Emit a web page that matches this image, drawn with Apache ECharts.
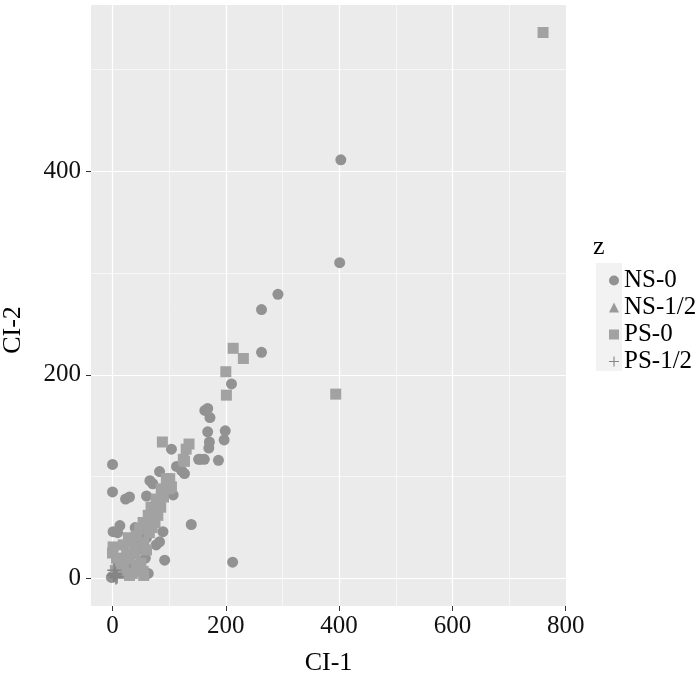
<!DOCTYPE html>
<html>
<head>
<meta charset="utf-8">
<script src="https://cdn.jsdelivr.net/npm/echarts@6/dist/echarts.min.js"></script>
<style>
  html, body { margin: 0; padding: 0; background: #fff; }
  #chart { width: 700px; height: 680px; }
</style>
</head>
<body>
<div id="chart"></div>
<script>
  // 数据：[CI-1, CI-2]
  const ns0 = [
    [403, 411], [401, 310], [292, 279], [263, 264], [263, 222], [210, 191],
    [163, 165], [168, 167], [172, 158], [168, 144], [199, 145], [197, 136],
    [171, 134], [170, 128], [152, 117], [162, 117], [187, 116], [155, 117],
    [104, 127], [0, 112], [113, 110], [122, 106], [127, 103], [83, 105],
    [66, 96], [71, 93], [0, 85], [23, 78], [30, 80], [60, 81], [107, 82],
    [139, 53], [1, 46], [13, 52], [9, 45], [89, 46], [83, 36], [77, 33],
    [92, 18], [212, 16], [63, 5], [0, 2], [-2, 1], [40, 50], [50, 30],
    [60, 40], [70, 60], [30, 15], [20, 5], [75, 70], [58, 20]
  ];
  const ns12 = [[20, 15], [35, 25], [50, 40], [60, 50], [45, 30]];
  const ps0 = [
    [760, 536], [394, 181], [213, 226], [231, 216], [200, 203], [201, 180],
    [88, 134], [135, 132], [130, 127], [125, 117], [127, 115], [101, 98],
    [104, 90], [95, 98], [86, 88], [77, 78], [68, 70], [63, 62], [54, 55],
    [48, 49], [42, 42], [33, 36], [19, 33], [1, 31], [7, 20], [25, 23],
    [42, 13], [54, 7], [30, 3], [19, 7], [5, 8], [15, 5], [35, 5], [45, 8],
    [50, 15], [55, 3], [10, 18], [20, 12], [30, 20], [40, 25], [0, 25],
    [85, 70], [75, 55], [65, 45], [55, 35], [90, 80], [80, 62], [70, 50],
    [60, 28], [38, 30], [28, 40], [100, 88]
  ];
  const ps12 = [[2, 3], [5, 5], [8, 2], [3, 8], [6, 1], [4, 4]];

  const xMajor = [0, 200, 400, 600];
  const xMinor = [100, 300, 500, 700];
  const yMajor = [0, 200, 400];
  const yMinor = [100, 300, 500];
  const xLabels = [0, 200, 400, 600, 800];
  const yLabels = [0, 200, 400];

  const FONT = "'Liberation Serif', 'DejaVu Serif', serif";
  const plusPath = 'path://M4.45,0 L5.55,0 L5.55,4.45 L10,4.45 L10,5.55 L5.55,5.55 L5.55,10 L4.45,10 L4.45,5.55 L0,5.55 L0,4.45 L4.45,4.45 Z';

  const gridLines = [];
  xMajor.forEach(v => gridLines.push({ xAxis: v, lineStyle: { width: 1.2 } }));
  xMinor.forEach(v => gridLines.push({ xAxis: v, lineStyle: { width: 0.6 } }));
  yMajor.forEach(v => gridLines.push({ yAxis: v, lineStyle: { width: 1.2 } }));
  yMinor.forEach(v => gridLines.push({ yAxis: v, lineStyle: { width: 0.6 } }));

  const chart = echarts.init(document.getElementById('chart'));
  chart.setOption({
    backgroundColor: '#ffffff',
    animation: false,
    textStyle: { fontFamily: FONT },
    title: {
      text: 'z',
      left: 588,
      top: 229,
      textStyle: { fontFamily: FONT, fontSize: 26, fontWeight: 'normal', color: '#000' }
    },
    grid: {
      left: 91, top: 5, width: 475, height: 601,
      outerBoundsMode: 'none',
      show: true, backgroundColor: '#ebebeb', borderWidth: 0
    },
    xAxis: {
      type: 'value',
      min: -38,
      max: 800.5,
      name: 'CI-1',
      nameLocation: 'middle',
      nameGap: 44,
      nameTextStyle: { fontFamily: FONT, fontSize: 26, color: '#000' },
      axisLine: { show: false, onZero: false },
      axisTick: { show: true, length: 5, customValues: xLabels, lineStyle: { color: '#333', width: 1 } },
      axisLabel: { customValues: xLabels, fontSize: 25, color: '#111', margin: 8, fontFamily: FONT },
      splitLine: { show: false }
    },
    yAxis: {
      type: 'value',
      min: -27,
      max: 563,
      axisLine: { show: false, onZero: false },
      axisTick: { show: true, length: 5, customValues: yLabels, lineStyle: { color: '#333', width: 1 } },
      axisLabel: { customValues: yLabels, fontSize: 25, color: '#111', margin: 10, fontFamily: FONT },
      splitLine: { show: false }
    },
    legend: {
      orient: 'vertical',
      left: 604,
      top: 262,
      itemWidth: 10,
      itemHeight: 10,
      itemGap: 0,
      data: ['NS-0', 'NS-1/2', 'PS-0', 'PS-1/2'],
      textStyle: { fontFamily: FONT, fontSize: 25, color: '#000', lineHeight: 27, padding: [0, 0, 0, 0] }
    },
    graphic: [0, 1, 2, 3].map(i => ({
      type: 'rect',
      z: -1,
      shape: { x: 596, y: 263 + i * 27, width: 26, height: 27 },
      style: { fill: '#f2f2f2' }
    })).concat([{
      type: 'text',
      x: 13,
      y: 330,
      rotation: Math.PI / 2,
      style: {
        text: 'CI-2', fontFamily: FONT, fontSize: 26, fill: '#000',
        align: 'center', verticalAlign: 'middle'
      }
    }]),
    series: [
      {
        name: 'grid',
        type: 'scatter',
        data: [],
        z: 1,
        markLine: {
          z: 1,
          silent: true,
          symbol: 'none',
          label: { show: false },
          lineStyle: { color: '#ffffff', type: 'solid' },
          data: gridLines
        }
      },
      {
        name: 'NS-0', type: 'scatter', data: ns0, symbol: 'circle', symbolSize: 11, z: 3,
        itemStyle: { color: '#929292', opacity: 1 }
      },
      {
        name: 'NS-1/2', type: 'scatter', data: ns12, symbol: 'triangle', symbolSize: 12, z: 3,
        itemStyle: { color: '#9a9a9a', opacity: 1 }
      },
      {
        name: 'PS-0', type: 'scatter', data: ps0, symbol: 'rect', symbolSize: 11, z: 3,
        itemStyle: { color: '#a2a2a2', opacity: 1 }
      },
      {
        name: 'PS-1/2', type: 'scatter', data: ps12, symbol: plusPath, symbolSize: 14, z: 4,
        itemStyle: { color: '#858585', opacity: 1 }
      }
    ]
  });
</script>
</body>
</html>
